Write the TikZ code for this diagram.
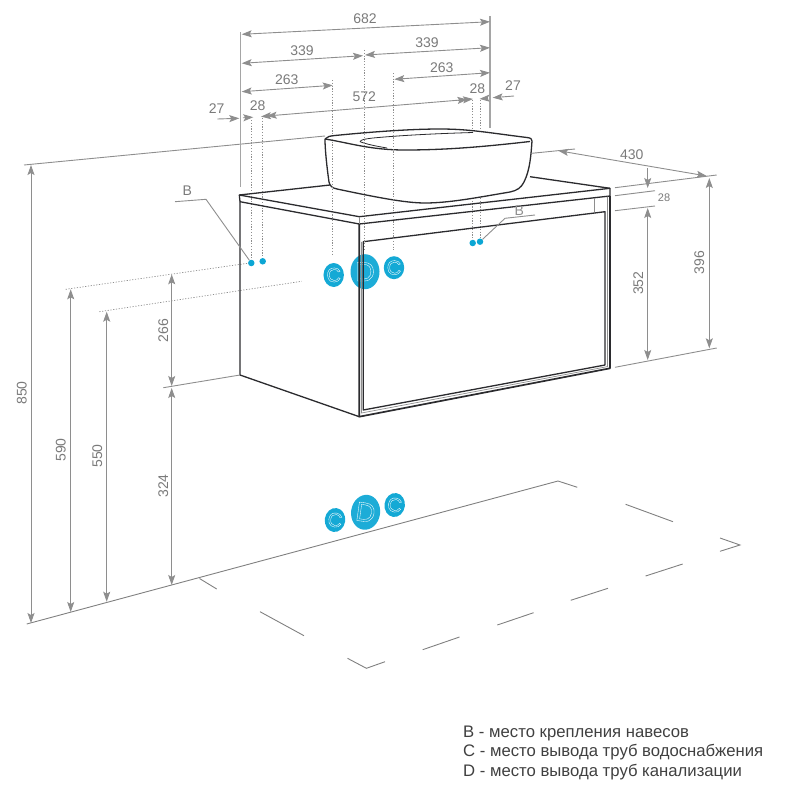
\documentclass[tikz,border=0pt]{standalone}
\usepackage{fontspec}
\setmainfont{Liberation Sans}
\usetikzlibrary{arrows.meta,shapes.geometric}
\definecolor{dimgray}{HTML}{8E8E8E}
\definecolor{textgray}{HTML}{7A7A7A}
\definecolor{holeblue}{HTML}{0CA6D4}
\definecolor{bodyblack}{HTML}{2B2B2E}
\newcommand{\outlined}[1]{\special{pdf:code 1 Tr 0.35 w 1 1 1 RG}#1\special{pdf:code 0 Tr}}
\tikzset{
	dimline/.style={draw=dimgray,line width=0.9pt,{Stealth[length=10pt,width=7pt,inset=2pt]}-{Stealth[length=10pt,width=7pt,inset=2pt]}},
	dimleft/.style={draw=dimgray,line width=0.9pt,{Stealth[length=10pt,width=7pt,inset=2pt]}-},
	dimright/.style={draw=dimgray,line width=0.9pt,-{Stealth[length=10pt,width=7pt,inset=2pt]}},
	extline/.style={draw=dimgray,line width=0.9pt},
	dotline/.style={draw=dimgray,line width=0.7pt,dash pattern=on 1.2pt off 1.6pt},
	floorline/.style={draw=dimgray!90!black,line width=0.9pt},
	bodyline/.style={draw=bodyblack,line width=1.3pt,line join=round},
	dimtext/.style={text=textgray,inner sep=0pt,font=\fontsize{14}{14}\selectfont},
	holedot/.style={circle,fill=holeblue,minimum size=6.5pt,inner sep=0pt},
	holebig/.style={ellipse,fill=holeblue,fill opacity=0.93,text opacity=1,inner sep=0pt,minimum width=29pt,minimum height=35pt,font=\fontsize{27}{27}\selectfont},
	holesmall/.style={ellipse,fill=holeblue,fill opacity=0.97,text opacity=1,inner sep=0pt,minimum width=20pt,minimum height=24pt,font=\fontsize{20}{20}\selectfont},
	legendtext/.style={anchor=west,inner sep=0pt,text=black!75,font=\fontsize{16.7}{17}\selectfont}
}
\begin{document}
\begin{tikzpicture}[x=1pt,y=-1pt]
	\useasboundingbox (0,0) rectangle (800,800);
	\draw[extline] (24,165) -- (325,136);
	\draw[extline,draw=dimgray!80,line width=1.2pt] (240.3,32) -- (240.3,187);
	\draw[extline,draw=dimgray!80,line width=1.2pt] (490,16) -- (490,128);
	\draw[dotline] (251.7,120) -- (251.7,260);
	\draw[dotline] (262.7,118) -- (262.7,258);
	\draw[dotline] (472.7,100) -- (472.7,240);
	\draw[dotline] (480,100) -- (480,238);
	\draw[dotline] (65.7,289.3) -- (251.7,262.7);
	\draw[dotline] (99.3,311.7) -- (301.7,281.3);
	\node [holesmall] (holeCa) at (333.7,275) {\outlined{C}};
	\node [holebig] (holeD) at (365,271.7) {\outlined{D}};
	\node [holesmall,minimum height=23pt] (holeCb) at (394,267.7) {\outlined{C}};
	\draw[bodyline] (330,185) -- (239.3,195) -- (240,201.7) -- (359.3,224) -- (610,196) -- (610,188.3) -- (530,176.7);
	\draw[bodyline] (239.3,195) -- (359.3,216.7) -- (610,188.3);
	\draw[draw=dimgray,line width=0.7pt] (359.3,216.7) -- (359.3,224);
	\draw[bodyline] (240,201.7) -- (240,375) -- (359.3,416.7);
	\draw[bodyline,line width=1.7pt] (359.3,224) -- (359.3,416.7) -- (610,368.3) -- (610,196);
	\draw[bodyline] (363.3,241.7) -- (605,211.7) -- (605,365) -- (363.3,410) -- cycle;
	\draw[draw=dimgray,line width=0.7pt] (361.5,241.9) -- (361.5,413) -- (607.5,366.6) -- (607.5,196.5);
	\draw[draw=dimgray,line width=0.8pt] (594,198.3) -- (594,211.7);
	\draw[bodyline,fill=white] (325,139) .. controls (327,136.5) and (330,136) .. (335,135.5) .. controls (370,132) and (410,129) .. (440,129) .. controls (470,129) and (490,133) .. (527,137.5) .. controls (531,138) and (532,139) .. (532,141) .. controls (531,155) and (530,170) .. (524,182) .. controls (521,188) and (517,190.5) .. (510,192) .. controls (480,197) and (450,203) .. (425,203) .. controls (405,203) and (375,197) .. (337,189) .. controls (332,188) and (330,186) .. (329,182) .. controls (327,168) and (325,150) .. (325,139);
	\draw[bodyline] (325,139) .. controls (350,143) and (370,150) .. (405,150) .. controls (450,150) and (490,146) .. (530,141.5);
	\draw[bodyline,line width=0.8pt] (360,141.7) .. controls (361,139.5) and (365,139) .. (373,138) .. controls (405,135) and (440,133.5) .. (473,132.5);
	\draw[bodyline,line width=0.8pt] (360,141.7) .. controls (366,144) and (375,146) .. (387,148);
	\draw[dotline] (332.7,80) -- (332.7,255);
	\draw[dotline] (364,50) -- (364,250);
	\draw[dotline] (393.3,73) -- (393.3,250);
	\node [holedot] (dotBa) at (251.3,263) {};
	\node [holedot] (dotBb) at (262.7,261.3) {};
	\node [holedot] (dotBc) at (472.7,243) {};
	\node [holedot] (dotBd) at (480,241.7) {};
	\node [dimtext] (lblBa) at (187.3,191) {B};
	\coordinate (leadBa) at (175,201.7);
	\draw[extline] (leadBa) -- (206,199.3) -- (dotBa);
	\node [dimtext,text=dimgray] (lblBb) at (519.3,210.7) {B};
	\coordinate (leadBb) at (535,215);
	\draw[extline] (leadBb) -- (505,218.3) -- (dotBd);
	\draw[dimline] (241.7,34.3) -- (490,21.7);
	\node [dimtext] (l682) at (365,19) {682};
	\draw[dimline] (241.7,63.3) -- (363,55.7);
	\node [dimtext] (l339a) at (302,50.7) {339};
	\draw[dimline] (365,55) -- (490,47.7);
	\node [dimtext] (l339b) at (427,42.7) {339};
	\draw[dimline] (241.7,91.7) -- (332.7,85.3);
	\node [dimtext] (l263a) at (286.7,80) {263};
	\draw[dimline] (394.3,79.3) -- (490,72.7);
	\node [dimtext] (l263b) at (441.7,68) {263};
	\draw[dimline] (266.7,116) -- (473,99);
	\node [dimtext] (l572) at (364.3,96.7) {572};
	\draw[dimright] (458,100.4) -- (467.5,99.5);
	\draw[dimleft] (261,116.6) -- (272,115.6);
	\draw[dimright] (243,117.8) -- (253.3,117.2);
	\node [dimtext] (l28a) at (257.7,105.7) {28};
	\draw[dimright] (217.3,119) -- (239.3,118.3);
	\node [dimtext] (l27a) at (216.7,108.7) {27};
	\draw[dimright] (514,96) -- (492.7,97.7);
	\node [dimtext] (l27b) at (513,85.3) {27};
	\draw[dimright] (488,98.3) -- (479.5,98.9);
	\node [dimtext] (l28b) at (477.3,88.7) {28};
	\draw[extline] (531.7,153.3) -- (575,149);
	\draw[extline] (615,187.7) -- (716.7,175);
	\draw[extline] (615,195.7) -- (655,190.7);
	\draw[extline] (615,210.7) -- (655,206);
	\draw[extline] (615,367.3) -- (716.7,348);
	\draw[dimline] (558.3,150.7) -- (706.7,176);
	\node [dimtext] (l430) at (631.7,155) {430};
	\draw[dimright] (647.7,168.3) -- (647.7,188);
	\draw[dimline] (647.7,208) -- (647.7,360);
	\node [dimtext,font=\fontsize{11}{11}\selectfont] (l28c) at (664,197.3) {28};
	\node [dimtext,rotate=90] (l352) at (638.3,283.3) {352};
	\draw[dimline] (709.3,178) -- (709.3,348.3);
	\node [dimtext,rotate=90] (l396) at (699.3,262.7) {396};
	\draw[dimline] (31,165) -- (31,623);
	\node [dimtext,rotate=90] (l850) at (21.7,393) {850};
	\draw[dimline] (70.7,289.3) -- (70.7,612);
	\node [dimtext,rotate=90] (l590) at (60.7,450) {590};
	\draw[dimline] (106.7,311.7) -- (106.7,601.7);
	\node [dimtext,rotate=90] (l550) at (97.3,456) {550};
	\draw[dimline] (171.7,274.3) -- (171.7,386);
	\node [dimtext,rotate=90] (l266) at (163.3,330.7) {266};
	\draw[dimline] (171.7,388) -- (171.7,585);
	\node [dimtext,rotate=90] (l324) at (163.3,486) {324};
	\draw[extline] (163.3,387.7) -- (240,375);
	\draw[floorline] (26.7,624) -- (558,481) -- (577.3,487.3);
	\draw[floorline] (625.6,504.3) -- (673,521.7);
	\draw[floorline] (720,538) -- (740,545) -- (720,551.3);
	\draw[floorline] (682.7,564) -- (645.6,576);
	\draw[floorline] (608,588.3) -- (570.7,600.3);
	\draw[floorline] (533.6,612.7) -- (497.3,625);
	\draw[floorline] (459.5,637) -- (422.7,649.7);
	\draw[floorline] (385,661.7) -- (366.4,668.3) -- (347.5,658.3);
	\draw[floorline] (304,635.7) -- (260,611.7);
	\draw[floorline] (216.7,589) -- (199.5,578.5);
	\node [holesmall,rotate=-8] (floorCa) at (335,520) {\outlined{C}};
	\node [holebig,rotate=-8] (floorD) at (365.6,512.3) {\outlined{D}};
	\node [holesmall,rotate=-8] (floorCb) at (394.7,505) {\outlined{C}};
	\node [legendtext] (legB) at (463,733) {B - место крепления навесов};
	\node [legendtext] (legC) at (463,752.5) {C - место вывода труб водоснабжения};
	\node [legendtext] (legD) at (463,772.5) {D - место вывода труб канализации};
\end{tikzpicture}
\end{document}
